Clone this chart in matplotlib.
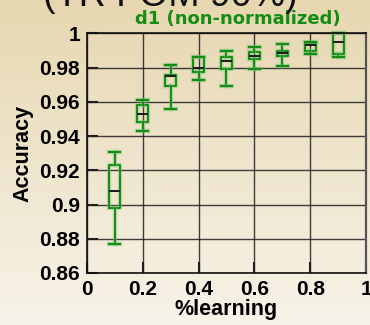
import numpy as np
import matplotlib
matplotlib.use("Agg")
import matplotlib.pyplot as plt
import matplotlib.patheffects as pe

# Fraction of data used for learning, and accuracy box statistics per fraction
learning = [0.1, 0.2, 0.3, 0.4, 0.5, 0.6, 0.7, 0.8, 0.9]
whisker_low = [0.8767, 0.9430, 0.9559, 0.9728, 0.9693, 0.9792, 0.9811, 0.9879, 0.9860]
q1 = [0.8980, 0.9480, 0.9693, 0.9773, 0.9790, 0.9850, 0.9868, 0.9899, 0.9878]
median = [0.9078, 0.9527, 0.9753, 0.9800, 0.9840, 0.9870, 0.9887, 0.9932, 0.9951]
q3 = [0.9228, 0.9580, 0.9757, 0.9860, 0.9860, 0.9889, 0.9899, 0.9945, 1.0000]
whisker_high = [0.9308, 0.9610, 0.9817, 0.9860, 0.9897, 0.9918, 0.9938, 0.9947, 1.0000]

xticks = [0, 0.2, 0.4, 0.6, 0.8, 1]
xtick_labels = ["0", "0.2", "0.4", "0.6", "0.8", "1"]
yticks = [0.86, 0.88, 0.90, 0.92, 0.94, 0.96, 0.98, 1.0]
ytick_labels = ["0.86", "0.88", "0.9", "0.92", "0.94", "0.96", "0.98", "1"]

green = "#138d13"
font = ["Liberation Sans", "DejaVu Sans"]

fig = plt.figure(figsize=(3.7, 3.25), dpi=100)

# beige vertical gradient backdrop
bg = fig.add_axes([0, 0, 1, 1], zorder=-10)
top = np.array([231, 215, 176]) / 255.0
bot = np.array([247, 243, 233]) / 255.0
t = np.linspace(0, 1, 256)[:, None]
grad = (top[None, :] * (1 - t) + bot[None, :] * t)[:, None, :]
bg.imshow(grad, aspect="auto", extent=[0, 1, 0, 1], origin="upper")
bg.axis("off")

ax = fig.add_axes([0.2351, 0.16, 0.7541, 0.7375])
ax.set_facecolor("none")

stats = []
for i in range(len(learning)):
    stats.append(dict(whislo=whisker_low[i], q1=q1[i], med=median[i],
                      q3=q3[i], whishi=whisker_high[i], fliers=[]))

glow = [pe.Stroke(linewidth=3.2, foreground="#7cc27c", alpha=0.45), pe.Normal()]
art = ax.bxp(stats, positions=learning, widths=0.04, capwidths=0.04,
             showfliers=False, manage_ticks=False,
             boxprops=dict(color=green, linewidth=1.4),
             whiskerprops=dict(color=green, linewidth=1.4),
             capprops=dict(color=green, linewidth=1.6),
             medianprops=dict(color="#1a1a1a", linewidth=1.4))
for key in ("boxes", "whiskers", "caps"):
    for a in art[key]:
        a.set_path_effects(glow)
        a.set_clip_on(False)

ax.set_xlim(0, 1)
ax.set_ylim(0.86, 1.0)
ax.set_xticks(xticks)
ax.set_xticklabels(xtick_labels, family=font, fontsize=15, fontweight="bold")
ax.set_yticks(yticks)
ax.set_yticklabels(ytick_labels, family=font, fontsize=15, fontweight="bold")
ax.tick_params(direction="in", length=8, width=1.5, color="#1e1e1e", pad=5)
ax.grid(True, color="#1e1e1e", linewidth=1.0, alpha=0.85)
ax.set_axisbelow(True)
for s in ax.spines.values():
    s.set_linewidth(1.2)
    s.set_color("#111111")
ax.spines["right"].set_color("#555555")
ax.spines["right"].set_linewidth(1.6)

ax.set_xlabel("%learning", family=font, fontsize=15.5, fontweight="bold", labelpad=0)
ax.set_ylabel("Accuracy", family=font, fontsize=15.5, fontweight="bold", labelpad=4)

fig.text(0.643, 1.0 - 19.5 / 325, "d1 (non-normalized)", color=green, fontsize=13,
         family=["DejaVu Sans"], fontweight="semibold", ha="center", va="center")
fig.text(0.46, 1.0 - 5.5 / 325, "(TR FOM 90%)", color="#111111", fontsize=27,
         family=font, ha="center", va="baseline")

fig.savefig("out.png", dpi=100)
